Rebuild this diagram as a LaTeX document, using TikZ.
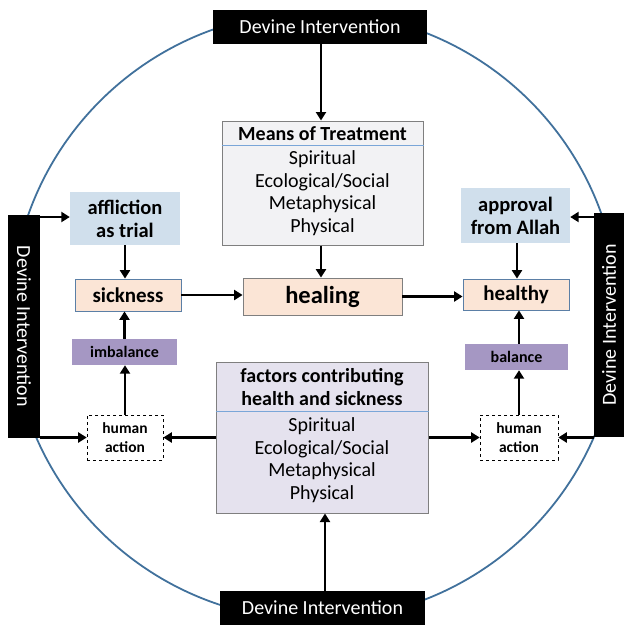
\documentclass[tikz,border=0pt]{standalone}
\usepackage{fontspec}
\setmainfont{Carlito}
\usetikzlibrary{arrows.meta,calc}
\definecolor{ringblue}{HTML}{41719C}
\definecolor{peach}{HTML}{FBE5D6}
\definecolor{peachline}{HTML}{5B7FA6}
\definecolor{lightblue}{HTML}{D0DFEC}
\definecolor{purp}{HTML}{A597C3}
\definecolor{graybox}{HTML}{F2F2F4}
\definecolor{lavbox}{HTML}{E5E2EE}
\definecolor{boxline}{HTML}{7F7F7F}
\definecolor{divline}{HTML}{7AA6D8}
\tikzset{
  arr/.style={line width=2.8pt,-{Triangle[length=8.5pt,width=10pt]}},
  blackbox/.style={fill=black,draw=none,text=white,inner sep=0pt,font=\fontsize{20}{24}\selectfont},
  rbox/.style={draw=peachline,line width=0.8pt,fill=peach,inner sep=0pt,align=center},
  abox/.style={fill=lightblue,draw=none,inner sep=0pt,align=center,font=\bfseries\fontsize{20.5}{23}\selectfont},
  pbox/.style={fill=purp,draw=none,inner sep=0pt,font=\bfseries\fontsize{16}{18}\selectfont},
  hbox/.style={draw=black,dashed,line width=0.6pt,fill=white,inner sep=0pt,align=center,font=\bfseries\fontsize{15.5}{19}\selectfont},
  bigbox/.style={draw=boxline,line width=1pt,inner sep=0pt},
  ttext/.style={inner sep=0pt,align=center},
}
\begin{document}
\begin{tikzpicture}[x=1pt,y=-1pt]
\useasboundingbox (0,0) rectangle (624,625);
% ring
\draw[ringblue,line width=1.8pt] (315,316) circle (304);
% Devine Intervention boxes
\node[blackbox,minimum width=214,minimum height=34] (topDI) at (320,27) {Devine Intervention};
\node[blackbox,minimum width=205,minimum height=34] (botDI) at (322.5,608) {Devine Intervention};
\node[blackbox,minimum width=32,minimum height=223] (leftDI) at (24,326.5) {};
\node[text=white,inner sep=0pt,rotate=-90,font=\fontsize{20}{24}\selectfont] (leftDIt) at (leftDI) {Devine Intervention};
\node[blackbox,minimum width=30,minimum height=224] (rightDI) at (609,325) {};
\node[text=white,inner sep=0pt,rotate=90,font=\fontsize{20}{24}\selectfont] (rightDIt) at (rightDI) {Devine Intervention};
% Means of Treatment
\node[bigbox,fill=graybox,minimum width=201,minimum height=124] (means) at (322.5,183) {};
\draw[divline,line width=0.8pt] ($(means.north west)+(0,25)$) coordinate (mdl) -- ($(means.north east)+(0,25)$) coordinate (mdr);
\node[ttext,font=\bfseries\fontsize{20}{22.5}\selectfont] (meansH) at (322.5,134) {Means of Treatment};
\node[ttext,font=\fontsize{20}{22.5}\selectfont] (meansI) at (322.5,193) {Spiritual\\Ecological/Social\\Metaphysical\\Physical};
% factors
\node[bigbox,fill=lavbox,minimum width=212,minimum height=151] (factors) at (322,437.5) {};
\draw[divline,line width=0.8pt] ($(factors.north west)+(0,50)$) coordinate (fdl) -- ($(factors.north east)+(0,50)$) coordinate (fdr);
\node[ttext,font=\bfseries\fontsize{20}{23}\selectfont] (factorsH) at (322,387) {factors contributing\\health and sickness};
\node[ttext,font=\fontsize{20}{22.5}\selectfont] (factorsI) at (322,460) {Spiritual\\Ecological/Social\\Metaphysical\\Physical};
% healing
\node[rbox,draw=boxline,minimum width=159,minimum height=37,font=\bfseries\fontsize{24.5}{28}\selectfont] (healing) at (322.5,296.5) {healing};
% left column
\node[abox,minimum width=110,minimum height=53] (afflic) at (125,218.5) {affliction\\as trial};
\node[rbox,minimum width=106,minimum height=32,font=\bfseries\fontsize{21}{24}\selectfont] (sick) at (128,295) {sickness};
\node[pbox,minimum width=105,minimum height=26] (imbal) at (124.5,352) {imbalance};
\node[hbox,minimum width=76,minimum height=45] (humL) at (125,437.5) {human\\action};
% right column
\node[abox,minimum width=109,minimum height=55] (approv) at (515.5,215.5) {approval\\from Allah};
\node[rbox,minimum width=106,minimum height=31,font=\bfseries\fontsize{21}{24}\selectfont] (healthy) at (516,294.5) {healthy};
\node[pbox,minimum width=103,minimum height=26] (bal) at (516.5,357) {balance};
\node[hbox,minimum width=78,minimum height=45] (humR) at (519,437.5) {human\\action};
% arrows
\draw[arr] (topDI.south -| 321,0) -- (321,0 |- means.north);
\draw[arr] (means.south -| 321,0) -- (321,0 |- healing.north);
\draw[arr] (botDI.north -| 325,0) -- (325,0 |- factors.south);
\draw[arr] (leftDI.east |- 0,217) -- (afflic.west |- 0,217);
\draw[arr] (leftDI.east |- humL.west) -- (humL.west);
\draw[arr] (rightDI.west |- 0,217) -- (approv.east |- 0,217);
\draw[arr] (rightDI.west |- humR.east) -- (humR.east);
\draw[arr] (afflic.south) -- (afflic.south |- sick.north);
\draw[arr] (imbal.north) -- (imbal.north |- sick.south);
\draw[arr] (humL.north) -- (humL.north |- imbal.south);
\draw[arr] (factors.west |- humL.east) -- (humL.east);
\draw[arr] (factors.east |- humR.west) -- (humR.west);
\draw[arr] (sick.east) -- (sick.east -| healing.west);
\draw[arr] (healing.east) -- (healing.east -| healthy.west);
\draw[arr] (approv.south -| 517,0) -- (517,0 |- healthy.north);
\draw[arr] (bal.north -| 519,0) -- (519,0 |- healthy.south);
\draw[arr] (humR.north) -- (humR.north |- bal.south);
\end{tikzpicture}
\end{document}
